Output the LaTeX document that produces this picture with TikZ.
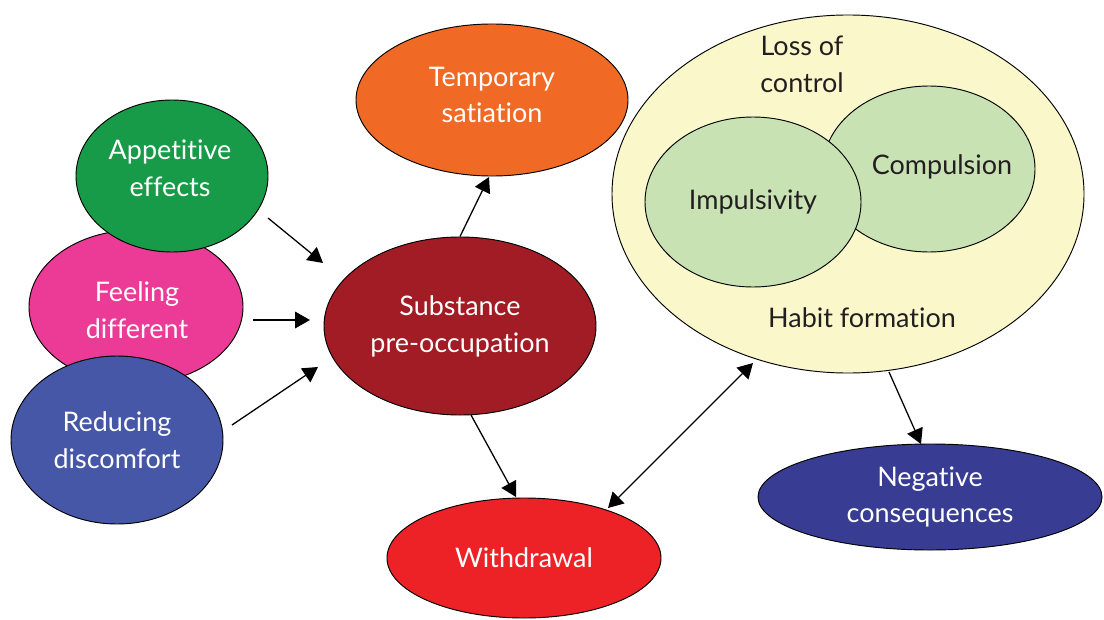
\documentclass[tikz,border=0pt]{standalone}
\usepackage{fontspec}
\setmainfont{Lato}[Ligatures=NoCommon]
\usetikzlibrary{shapes.geometric,arrows.meta,calc}
\definecolor{cApp}{HTML}{189B48}
\definecolor{cFeel}{HTML}{EC3B96}
\definecolor{cRed}{HTML}{4557A6}
\definecolor{cTemp}{HTML}{F06A25}
\definecolor{cSub}{HTML}{A11C25}
\definecolor{cWd}{HTML}{EC2227}
\definecolor{cYel}{HTML}{FAF7CB}
\definecolor{cGrn}{HTML}{C8E2B4}
\definecolor{cNeg}{HTML}{383C92}
\definecolor{cTxt}{HTML}{231F20}
\tikzset{
  blob/.style={ellipse, draw=black, line width=0.8pt, inner sep=0pt, align=center,
    font=\fontsize{23}{31.5}\selectfont},
  wblob/.style={blob, text=white},
  dblob/.style={blob, text=cTxt},
  lbl/.style={align=center, text=cTxt, font=\fontsize{23}{31.5}\selectfont},
  wlbl/.style={lbl, text=white},
  arr/.style={line width=1.1pt, -{Triangle[length=0.45cm,width=0.5cm]}},
  darr/.style={line width=1.1pt, {Triangle[length=0.45cm,width=0.5cm]}-{Triangle[length=0.45cm,width=0.5cm]}}
}
\begin{document}
\begin{tikzpicture}[x=0.03cm,y=-0.03cm]
\useasboundingbox (0,0) rectangle (1104,619);
% left cluster
\node[wblob, fill=cFeel, minimum width=6.42cm, minimum height=4.62cm] (feel) at (136,307) {};
\node[wlbl] (feeltxt) at (137,310) {Feeling\\different};
\node[wblob, fill=cApp, minimum width=5.76cm, minimum height=4.56cm] (app) at (172,176) {};
\node[wlbl] (apptxt) at (170,168) {Appetitive\\effects};
\node[wblob, fill=cRed, minimum width=6.36cm, minimum height=5.04cm] (red) at (117,440) {Reducing\\discomfort};
% middle
\node[wblob, fill=cTemp, minimum width=8.16cm, minimum height=4.56cm] (temp) at (492,100) {};
\node[wlbl] (temptxt) at (492,95) {Temporary\\satiation};
\node[wblob, fill=cSub, minimum width=8.16cm, minimum height=5.34cm] (sub) at (460,326) {Substance\\pre-occupation};
\node[wblob, fill=cWd, minimum width=8.22cm, minimum height=3.6cm] (wd) at (524,558) {Withdrawal};
% right
\node[dblob, fill=cYel, minimum width=14.16cm, minimum height=10.74cm] (yel) at (848,194) {};
\node[dblob, fill=cGrn, minimum width=6.36cm, minimum height=4.98cm] (comp) at (929,169) {};
\node[dblob, fill=cGrn, minimum width=6.48cm, minimum height=5.1cm] (imp) at (753,202) {Impulsivity};
\node[lbl] (comptxt) at (942,167) {Compulsion};
\node[lbl] (loss) at (802,64) {Loss of\\control};
\node[lbl] (habit) at (862,318) {Habit formation};
\node[wblob, fill=cNeg, minimum width=10.32cm, minimum height=3.18cm] (neg) at (930,497) {Negative\\consequences};
% connectors
\draw[arr] ($(app)+(96,42)$) -- ($(sub)+(-137,-63)$);
\draw[arr] ($(feel)+(117,13)$) -- ($(sub)+(-150,-6)$);
\draw[arr] ($(red)+(115,-15)$) -- ($(sub)+(-142,41)$);
\draw[arr] (sub.north) -- ($(temp)+(-3,77)$);
\draw[arr] ($(sub)+(11,89)$) -- ($(wd)+(-8,-61)$);
\draw[darr] ($(wd)+(84,-50)$) -- ($(yel)+(-95,169)$);
\draw[arr] ($(yel)+(41,178)$) -- ($(neg)+(-9,-53)$);
\end{tikzpicture}
\end{document}
